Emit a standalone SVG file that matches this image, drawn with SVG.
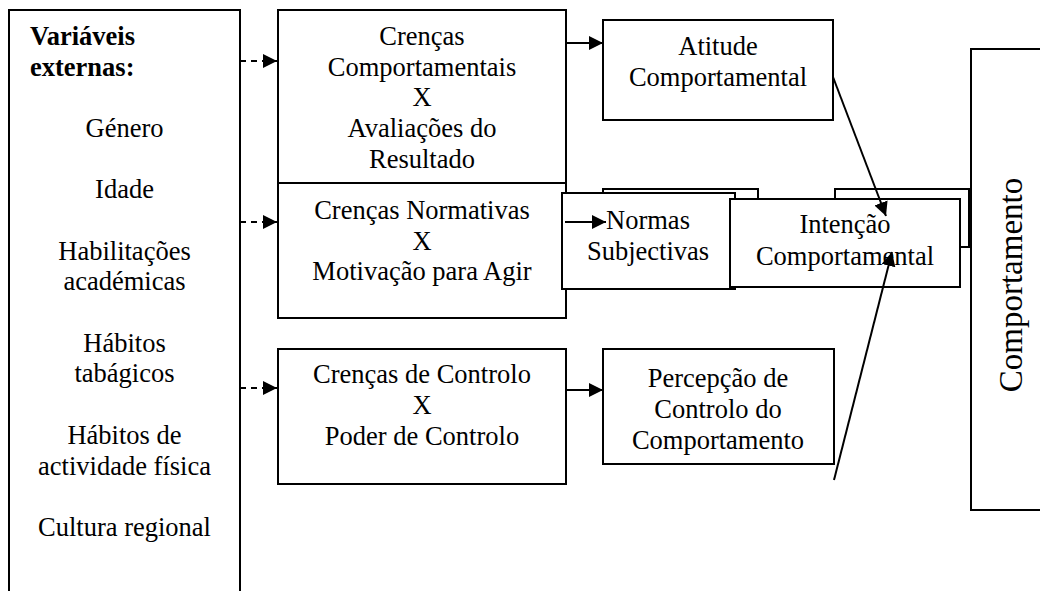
<svg xmlns="http://www.w3.org/2000/svg" width="1040" height="591" viewBox="0 0 1040 591">
<style>
.b{fill:#fff;stroke:#000;stroke-width:2}
text{font-family:"Liberation Serif","Times New Roman",serif;font-size:26.5px;fill:#000}
.c{text-anchor:middle}
.bold{font-weight:bold}
.ln{stroke:#000;stroke-width:2;fill:none}
.d{stroke-dasharray:6 5}
</style>
<defs>
<marker id="ah" viewBox="0 0 14 14" refX="14" refY="7" markerWidth="14" markerHeight="14" markerUnits="userSpaceOnUse" orient="auto">
<path d="M0,0 L14,7 L0,14 Z" fill="#000"/>
</marker>
</defs>
<rect width="1040" height="591" fill="#fff"/>
<g id="externas">
<rect class="b" x="9" y="10" width="231" height="600"/>
<text class="bold" x="30" y="45">Variáveis</text>
<text class="bold" x="30" y="75.7">externas:</text>
<text class="c" x="124.5" y="137">Género</text>
<text class="c" x="124.5" y="198">Idade</text>
<text class="c" x="124.5" y="259.5">Habilitações</text>
<text class="c" x="124.5" y="290">académicas</text>
<text class="c" x="124.5" y="351.5">Hábitos</text>
<text class="c" x="124.5" y="382">tabágicos</text>
<text class="c" x="124.5" y="444">Hábitos de</text>
<text class="c" x="124.5" y="474.5">actividade física</text>
<text class="c" x="124.5" y="536">Cultura regional</text>
</g>
<g id="crencas-comportamentais">
<rect class="b" x="278" y="10" width="288" height="173"/>
<text class="c" x="422" y="45">Crenças</text>
<text class="c" x="422" y="75.7">Comportamentais</text>
<text class="c" x="422" y="106.4">X</text>
<text class="c" x="422" y="137.1">Avaliações do</text>
<text class="c" x="422" y="167.8">Resultado</text>
</g>
<g id="crencas-normativas">
<rect class="b" x="278" y="183" width="288" height="135"/>
<text class="c" x="422" y="219">Crenças Normativas</text>
<text class="c" x="422" y="249.7">X</text>
<text class="c" x="422" y="280.4">Motivação para Agir</text>
</g>
<g id="crencas-controlo">
<rect class="b" x="278" y="349" width="288" height="135"/>
<text class="c" x="422" y="383.3">Crenças de Controlo</text>
<text class="c" x="422" y="414">X</text>
<text class="c" x="422" y="444.7">Poder de Controlo</text>
</g>
<g id="atitude">
<rect class="b" x="603" y="20" width="230" height="100"/>
<text class="c" x="718" y="55">Atitude</text>
<text class="c" x="718" y="86">Comportamental</text>
</g>
<g id="percepcao">
<rect class="b" x="603" y="349" width="231" height="115"/>
<text class="c" x="718" y="387">Percepção de</text>
<text class="c" x="718" y="418">Controlo do</text>
<text class="c" x="718" y="448.5">Comportamento</text>
</g>
<g id="comportamento">
<rect class="b" x="971" y="49" width="90" height="461"/>
<text x="0" y="0" font-size="33" class="c" style="font-size:33px" transform="translate(1022,285) rotate(-90)">Comportamento</text>
</g>
<g id="normas">
<rect class="b" x="603" y="189" width="155" height="60"/>
<rect class="b" x="562" y="193" width="173" height="96"/>
<text class="c" x="648" y="228.5">Normas</text>
<text class="c" x="648" y="260">Subjectivas</text>
</g>
<g id="intencao">
<rect class="b" x="835" y="189" width="134" height="58"/>
<rect class="b" x="730" y="199" width="230" height="88"/>
<text class="c" x="845" y="233">Intenção</text>
<text class="c" x="845" y="265">Comportamental</text>
</g>
<g id="connectors">
<line class="ln d" x1="240" y1="61" x2="277" y2="61" marker-end="url(#ah)"/>
<line class="ln d" x1="240" y1="222" x2="277" y2="222" marker-end="url(#ah)"/>
<line class="ln d" x1="240" y1="388" x2="277" y2="388" marker-end="url(#ah)"/>
<line class="ln" x1="566" y1="43" x2="603" y2="43" marker-end="url(#ah)"/>
<line class="ln" x1="566" y1="390" x2="603" y2="390" marker-end="url(#ah)"/>
<line class="ln" x1="565" y1="222" x2="606" y2="222" marker-end="url(#ah)"/>
<line class="ln" x1="833" y1="77" x2="886" y2="216" marker-end="url(#ah)"/>
<line class="ln" x1="834" y1="480" x2="892" y2="252" marker-end="url(#ah)"/>
</g>
</svg>
